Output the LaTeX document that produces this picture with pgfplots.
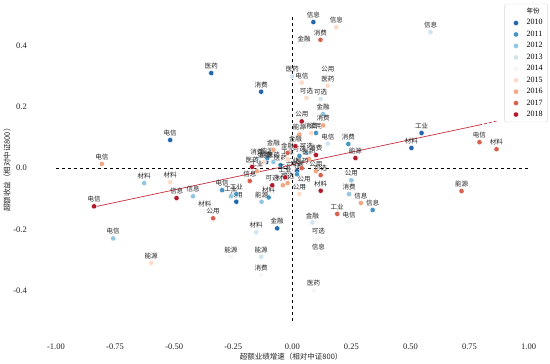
\documentclass[border=0pt]{standalone}
\usepackage{fontspec}
\setmainfont{Liberation Serif}
\newfontfamily\cjk{Noto Sans CJK SC}
\usepackage{pgfplots}
\usepackage{pgfplotstable}
\pgfplotsset{compat=1.18}
\definecolor{c2010}{HTML}{2166AC}
\definecolor{c2011}{HTML}{4393C3}
\definecolor{c2012}{HTML}{92C5DE}
\definecolor{c2013}{HTML}{D1E5F0}
\definecolor{c2014}{HTML}{F7F7F7}
\definecolor{c2015}{HTML}{FDDBC7}
\definecolor{c2016}{HTML}{F4A582}
\definecolor{c2017}{HTML}{D6604D}
\definecolor{c2018}{HTML}{B2182B}
\definecolor{regc}{RGB}{200,45,60}

\pgfplotstableread{
x y lab
0.089 0.478 信息
-0.343 0.311 医药
-0.132 0.250 消费
-0.517 0.092 电信
0.547 0.115 工业
0.504 0.066 材料
-0.064 -0.197 金融
-0.237 -0.110 公用
-0.110 0.020 能源
0.020 -0.010 可选
}\tA
\pgfplotstableread{
x y lab
0.237 0.079 消费
0.340 -0.137 信息
-0.297 -0.072 电信
-0.237 -0.085 工业
-0.100 -0.096 材料
0.020 -0.020 金融
0.100 0.115 公用
-0.106 0.033 能源
-0.050 0.010 医药
0.030 0.040 可选
}\tB
\pgfplotstableread{
x y lab
-0.758 -0.230 电信
-0.627 -0.049 材料
-0.420 -0.092 信息
-0.130 -0.110 能源
0.130 0.177 金融
0.240 -0.085 消费
0.250 -0.040 公用
-0.260 -0.092 工业
-0.080 0.020 医药
0.060 0.050 可选
}\tC
\pgfplotstableread{
x y lab
0.585 0.445 信息
0.120 0.226 可选
-0.153 -0.210 材料
-0.132 -0.290 能源
0.085 -0.178 金融
0.000 0.300 医药
-0.150 0.030 消费
0.050 -0.060 公用
-0.030 -0.020 工业
0.150 0.080 电信
}\tD
\pgfplotstableread{
x y lab
-0.132 -0.350 消费
-0.260 -0.290 能源
0.090 -0.400 医药
0.110 -0.280 信息
0.110 -0.230 可选
0.240 -0.175 电信
0.050 0.400 金融
0.150 0.300 公用
-0.370 -0.140 材料
0.000 0.000 工业
}\tE
\pgfplotstableread{
x y lab
0.186 0.461 信息
0.040 0.280 电信
0.150 0.270 医药
0.060 0.230 可选
-0.597 -0.310 能源
-0.517 -0.046 材料
0.030 -0.085 公用
0.080 0.115 消费
-0.120 0.020 金融
-0.020 0.030 工业
}\tF
\pgfplotstableread{
x y lab
-0.806 0.014 电信
0.130 0.140 消费
0.290 -0.114 信息
0.030 0.110 能源
-0.040 -0.056 材料
-0.020 -0.049 可选
0.070 0.030 医药
-0.080 0.060 金融
0.100 -0.010 公用
-0.150 -0.010 工业
}\tG
\pgfplotstableread{
x y lab
0.119 0.420 消费
0.792 0.085 电信
0.864 0.062 材料
-0.335 -0.164 公用
0.190 -0.150 工业
0.120 -0.023 可选
-0.180 -0.042 信息
0.716 -0.075 能源
-0.020 0.050 金融
0.040 0.000 医药
}\tH
\pgfplotstableread{
x y lab
-0.839 -0.125 电信
-0.490 -0.098 信息
-0.170 0.004 医药
0.040 0.153 公用
0.013 0.072 金融
0.267 0.033 能源
0.120 -0.074 材料
0.100 0.043 消费
-0.085 -0.056 可选
-0.030 -0.030 工业
}\tI

\pgfplotsset{
  yr/.style={only marks, mark=*, mark size=2.6pt,
    mark options={fill=#1, draw=white, line width=0.3pt},
    point meta=explicit symbolic,
    nodes near coords={\pgfplotspointmeta},
    every node near coord/.append style={anchor=center, yshift=7pt, inner sep=0pt,
      font=\cjk\fontsize{6.5}{7}\selectfont, text=black!85}},
}

\begin{document}
\begin{tikzpicture}
\begin{axis}[
  width=516.6pt, height=335.5pt, scale only axis,
  xmin=-1.1, xmax=1.09, ymin=-0.55, ymax=0.55,
  axis line style={draw=none}, major tick length=0pt,
  xtick={-1,-0.75,-0.5,-0.25,0,0.25,0.5,0.75,1},
  ytick={-0.4,-0.2,0,0.2,0.4},
  /pgf/number format/assume math mode=true,
  xticklabel style={/pgf/number format/fixed, /pgf/number format/fixed zerofill, /pgf/number format/precision=2, yshift=-4pt},
  yticklabel style={/pgf/number format/fixed, /pgf/number format/fixed zerofill, /pgf/number format/precision=1, xshift=-2pt},
  tick label style={font=\fontsize{8.5}{10}\selectfont, text=black!85},
  xlabel={\cjk 超额业绩增速（相对中证800）},
  ylabel={\cjk 超额收益（相对中证800）},
  label style={font=\fontsize{7.5}{8}\selectfont, text=black!85},
  xlabel style={yshift=3pt},
  ylabel style={yshift=-4pt},
  legend cell align=left,
  legend style={at={(0.996,0.989)}, anchor=north east, draw=black!15, rounded corners=2pt,
    font=\fontsize{8}{9}\selectfont, row sep=0.6pt, inner xsep=3pt, inner ysep=2pt,
    /tikz/every even column/.append style={column sep=3pt},
    /tikz/every odd column/.append style={column sep=6pt}},
  clip=false,
]
\addlegendimage{empty legend}
\addlegendentry{\cjk\fontsize{6.5}{7}\selectfont 年份}
\addplot[black, dashed, line width=0.9pt, forget plot] coordinates {(-1,0) (1,0)};
\addplot[black, dashed, line width=0.9pt, forget plot] coordinates {(0,-0.5) (0,0.5)};
\addplot[yr=c2010] table[x=x,y=y,meta=lab]{\tA};\addlegendentry{2010}
\addplot[yr=c2011] table[x=x,y=y,meta=lab]{\tB};\addlegendentry{2011}
\addplot[yr=c2012] table[x=x,y=y,meta=lab]{\tC};\addlegendentry{2012}
\addplot[yr=c2013] table[x=x,y=y,meta=lab]{\tD};\addlegendentry{2013}
\addplot[yr=c2014] table[x=x,y=y,meta=lab]{\tE};\addlegendentry{2014}
\addplot[yr=c2015] table[x=x,y=y,meta=lab]{\tF};\addlegendentry{2015}
\addplot[yr=c2016] table[x=x,y=y,meta=lab]{\tG};\addlegendentry{2016}
\addplot[yr=c2017] table[x=x,y=y,meta=lab]{\tH};\addlegendentry{2017}
\addplot[yr=c2018] table[x=x,y=y,meta=lab]{\tI};\addlegendentry{2018}
\addplot[regc, line width=0.7pt, forget plot] coordinates {(-0.839,-0.127) (0.79,0.141)};
\addplot[regc, densely dashed, line width=0.7pt, forget plot] coordinates {(0.79,0.141) (0.864,0.154)};
\end{axis}
\end{tikzpicture}
\end{document}
